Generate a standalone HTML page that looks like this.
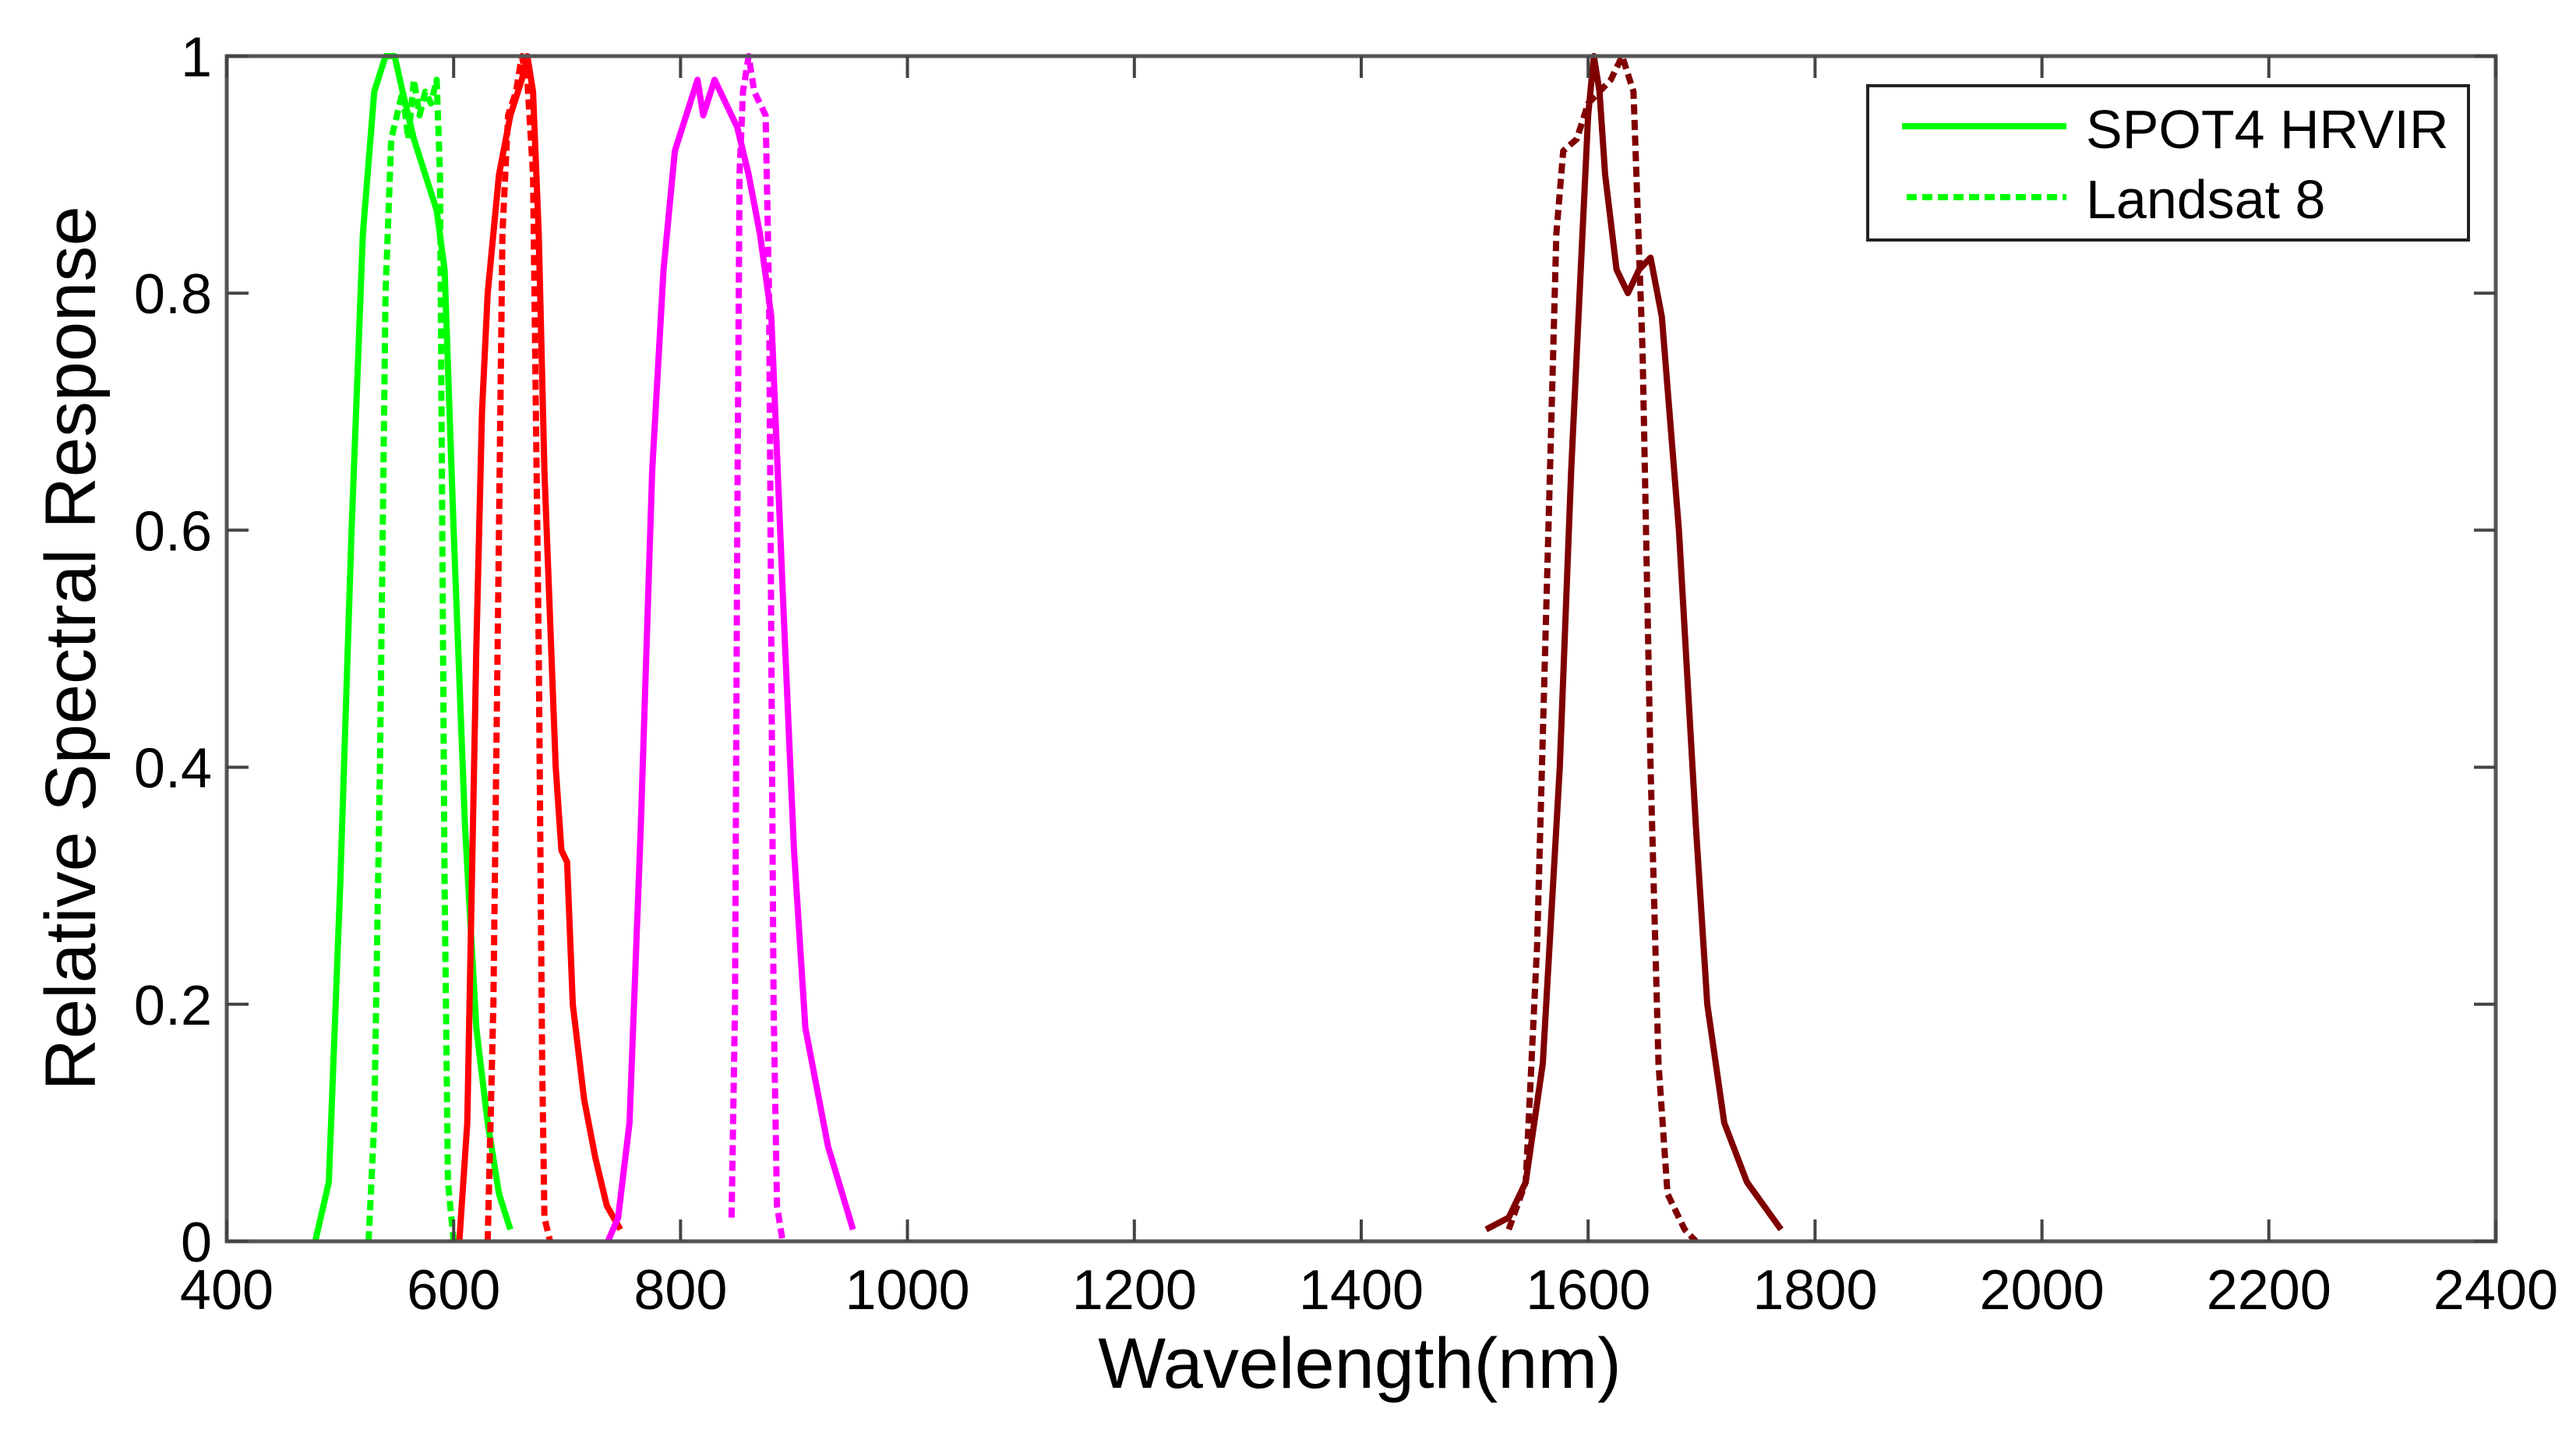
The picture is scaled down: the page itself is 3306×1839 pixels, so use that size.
<!DOCTYPE html>
<html><head><meta charset="utf-8"><style>
html,body{margin:0;padding:0;background:#fff;}
svg{display:block;}
text{font-family:"Liberation Sans",Arial,sans-serif;fill:#000;}
</style></head><body>
<svg id="chart" width="3306" height="1839" viewBox="0 0 3306 1839" xmlns="http://www.w3.org/2000/svg">
<rect x="0" y="0" width="3306" height="1839" fill="#fff"/>
<g id="series"></g>
<g id="axes"></g>
<g id="legend">
  <rect x="2397" y="110" width="771" height="198" fill="#fff" stroke="#222" stroke-width="4"/>
  <line x1="2441" y1="162" x2="2652" y2="162" stroke="#00ff00" stroke-width="8"/>
  <text x="2677" y="190" font-size="70">SPOT4 HRVIR</text>
  <line x1="2447" y1="253" x2="2652" y2="253" stroke="#00ff00" stroke-width="8" stroke-dasharray="13,7"/>
  <text x="2677" y="280" font-size="70">Landsat 8</text>
</g>
<text x="1745" y="1781" font-size="92" text-anchor="middle">Wavelength(nm)</text>
<text transform="translate(122,832) rotate(-90)" x="0" y="0" font-size="92" text-anchor="middle">Relative Spectral Response</text>
</svg>
<script>
const xTicks = [400,600,800,1000,1200,1400,1600,1800,2000,2200,2400];
const yTicks = [0,0.2,0.4,0.6,0.8,1];
const yTickLabels = ["0","0.2","0.4","0.6","0.8","1"];

const spotGreenX = [478,490,500,510,520,530,540,548,555,565,575,585,592,600,610,620,630,640,650];
const spotGreenY = [0,0.05,0.3,0.6,0.85,0.97,1.0,1.0,0.97,0.93,0.9,0.87,0.82,0.6,0.35,0.18,0.1,0.04,0.01];
const l8GreenX = [525,530,535,540,545,550,555,560,565,570,575,580,585,588,590,592,595,600];
const l8GreenY = [0,0.1,0.4,0.8,0.93,0.95,0.97,0.93,0.98,0.95,0.97,0.96,0.98,0.9,0.6,0.3,0.05,0];
const spotRedX = [605,612,620,625,630,640,650,660,665,670,675,680,690,695,700,705,715,725,735,747];
const spotRedY = [0,0.1,0.5,0.7,0.8,0.9,0.95,0.98,1.0,0.97,0.85,0.65,0.4,0.33,0.32,0.2,0.12,0.07,0.03,0.01];
const l8RedX = [630,635,640,643,648,655,660,665,670,675,678,680,685];
const l8RedY = [0,0.2,0.6,0.85,0.95,0.97,1.0,0.98,0.9,0.5,0.15,0.02,0];
const spotNirX = [736,745,755,765,775,785,795,805,815,820,830,840,850,860,870,880,890,900,910,930,952];
const spotNirY = [0,0.02,0.1,0.35,0.65,0.82,0.92,0.95,0.98,0.95,0.98,0.96,0.94,0.9,0.85,0.78,0.55,0.33,0.18,0.08,0.01];
const l8NirX = [845,848,850,852,855,860,865,870,875,878,880,882,885,890];
const l8NirY = [0.02,0.2,0.6,0.9,0.97,1.0,0.97,0.96,0.95,0.8,0.5,0.2,0.03,0];
const spotSwirX = [1510,1530,1545,1560,1575,1585,1595,1600,1605,1610,1615,1625,1635,1645,1655,1665,1680,1695,1705,1720,1740,1770];
const spotSwirY = [0.01,0.02,0.05,0.15,0.4,0.65,0.85,0.95,1.0,0.97,0.9,0.82,0.8,0.82,0.83,0.78,0.6,0.35,0.2,0.1,0.05,0.01];
const l8SwirX = [1530,1545,1555,1565,1572,1578,1590,1600,1610,1620,1630,1640,1648,1655,1662,1670,1685,1695];
const l8SwirY = [0.01,0.05,0.25,0.6,0.85,0.92,0.93,0.96,0.97,0.98,1.0,0.97,0.75,0.4,0.15,0.04,0.01,0];

const L=291,R=3203,T=72,B=1593;
const xs = v => L + (v-400)/(2400-400)*(R-L);
const ys = v => B - v*(B-T);
const NS="http://www.w3.org/2000/svg";
const sg=document.getElementById('series');
const ax=document.getElementById('axes');

function drawSeries(xArr,yArr,color,dashed,name){
  const p=document.createElementNS(NS,'path');
  let d='';
  for(let i=0;i<xArr.length;i++){d+=(i?'L':'M')+xs(xArr[i]).toFixed(1)+','+ys(yArr[i]).toFixed(1);}
  p.setAttribute('d',d);
  p.setAttribute('fill','none');
  p.setAttribute('stroke',color);
  p.setAttribute('stroke-width','8');
  p.setAttribute('stroke-linejoin','round');
  if(dashed)p.setAttribute('stroke-dasharray','13,7');
  
  
  sg.appendChild(p);
}
drawSeries(spotGreenX,spotGreenY,'#00ff00',false,'spot4-green-line');
drawSeries(l8GreenX,l8GreenY,'#00ff00',true,'landsat8-green-line');
drawSeries(spotRedX,spotRedY,'#ff0000',false,'spot4-red-line');
drawSeries(l8RedX,l8RedY,'#ff0000',true,'landsat8-red-line');
drawSeries(spotNirX,spotNirY,'#ff00ff',false,'spot4-nir-line');
drawSeries(l8NirX,l8NirY,'#ff00ff',true,'landsat8-nir-line');
drawSeries(spotSwirX,spotSwirY,'#800000',false,'spot4-swir-line');
drawSeries(l8SwirX,l8SwirY,'#800000',true,'landsat8-swir-line');

const frame=document.createElementNS(NS,'rect');
frame.setAttribute('x',L);frame.setAttribute('y',T);frame.setAttribute('width',R-L);frame.setAttribute('height',B-T);
frame.setAttribute('fill','none');frame.setAttribute('stroke','#555');frame.setAttribute('stroke-width','5');


ax.appendChild(frame);

function addLine(x1,y1,x2,y2,name){
  const l=document.createElementNS(NS,'line');
  l.setAttribute('x1',x1);l.setAttribute('y1',y1);l.setAttribute('x2',x2);l.setAttribute('y2',y2);
  l.setAttribute('stroke','#444');l.setAttribute('stroke-width','4');
  
  
  ax.appendChild(l);
}
function addText(x,y,s,anchor,name){
  const t=document.createElementNS(NS,'text');
  t.setAttribute('x',x);t.setAttribute('y',y);t.setAttribute('font-size','72');t.setAttribute('text-anchor',anchor);
  t.textContent=s;
  
  
  ax.appendChild(t);
}
xTicks.forEach(v=>{
  const x=xs(v);
  addLine(x,B,x,B-28,'x-tick');
  addLine(x,T,x,T+28,'x-tick-top');
  addText(x,1680,String(v),'middle','x-tick-label');
});
yTicks.forEach((v,i)=>{
  const y=ys(v);
  addLine(L,y,L+28,y,'y-tick');
  addLine(R,y,R-28,y,'y-tick-right');
  addText(272,y+26,yTickLabels[i],'end','y-tick-label');
});
</script>
</body></html>
